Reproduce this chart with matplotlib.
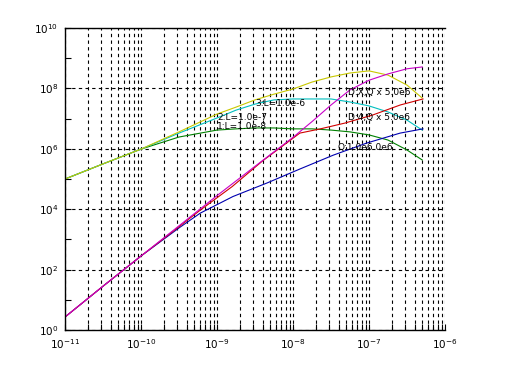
import numpy as np
import matplotlib
matplotlib.use("Agg")
import matplotlib.pyplot as plt
from matplotlib.ticker import FixedLocator, NullFormatter

# log10 values
green_lx  = [-11, -10.5, -10, -9.5, -9, -8.75, -8.5, -8.25, -8, -7.75, -7.5, -7.25, -7, -6.75, -6.5, -6.3]
green_ly  = [5.0, 5.5, 5.99, 6.39, 6.62, 6.66, 6.69, 6.69, 6.66, 6.66, 6.62, 6.56, 6.46, 6.29, 5.96, 5.63]
cyan_lx   = [-11, -10.5, -10, -9.5, -9, -8.75, -8.5, -8.25, -8, -7.75, -7.5, -7.25, -7, -6.75, -6.5, -6.3]
cyan_ly   = [5.0, 5.5, 5.99, 6.52, 7.02, 7.28, 7.48, 7.62, 7.65, 7.65, 7.65, 7.55, 7.42, 7.22, 6.95, 6.62]
yellow_lx = [-11, -10.5, -10, -9.5, -9, -8.75, -8.5, -8.25, -8, -7.75, -7.5, -7.25, -7, -6.75, -6.5, -6.3]
yellow_ly = [5.0, 5.5, 5.99, 6.56, 7.15, 7.38, 7.62, 7.81, 7.98, 8.21, 8.38, 8.51, 8.58, 8.44, 8.11, 7.68]
magenta_lx = [-11, -10.5, -10, -9.5, -9, -8.5, -8, -7.75, -7.5, -7.25, -7, -6.75, -6.5, -6.3]
magenta_ly = [0.43, 1.45, 2.45, 3.45, 4.45, 5.42, 6.38, 6.9, 7.45, 7.95, 8.27, 8.48, 8.65, 8.71]
red_lx    = [-11, -10.5, -10, -9.5, -9.22, -8.8, -8.4, -7.91, -7.64, -7.32, -6.95, -6.59, -6.29]
red_ly    = [0.43, 1.45, 2.45, 3.42, 3.97, 4.75, 5.6, 6.52, 6.66, 6.85, 7.12, 7.45, 7.65]
blue_lx   = [-11, -10.5, -10, -9.5, -9.22, -8.79, -8.34, -7.91, -7.47, -7.03, -6.59, -6.29]
blue_ly   = [0.43, 1.45, 2.45, 3.38, 3.87, 4.42, 4.87, 5.33, 5.79, 6.19, 6.52, 6.66]

x_tick_exp = [-11, -10, -9, -8, -7, -6]
y_tick_exp = [0, 2, 4, 6, 8, 10]

labels = ["3:L=1.0e-6", "2:L=1.0e-7", "1:L=1.0e-8",
          "D:X,Q x 5.0e6", "D:4,Q x 5.0e6", "Q:1.0e6.0e6"]

fig = plt.figure(figsize=(5.08, 3.70), dpi=100)
ax = fig.add_axes([65/508, 1-330/370, (445-65)/508, (330-28)/370])

series = [
    (green_lx, green_ly, "#008000"),
    (cyan_lx, cyan_ly, "#00bfbf"),
    (yellow_lx, yellow_ly, "#c8c800"),
    (blue_lx, blue_ly, "#0000b0"),
    (red_lx, red_ly, "#d00000"),
    (magenta_lx, magenta_ly, "#c800c8"),
]
for lx, ly, c in series:
    ax.plot(10.0**np.array(lx), 10.0**np.array(ly), color=c, lw=0.8)

ax.set_xscale("log")
ax.set_yscale("log")
ax.set_xlim(1e-11, 1e-6)
ax.set_ylim(1e0, 1e10)

xmaj = [10.0**e for e in x_tick_exp]
xmin = [m * 10.0**e for e in x_tick_exp[:-1] for m in range(2, 10)]
ymaj = [10.0**e for e in y_tick_exp]
ymin = [10.0**e for e in range(1, 10, 2)]
ax.xaxis.set_major_locator(FixedLocator(xmaj))
ax.xaxis.set_minor_locator(FixedLocator(xmin))
ax.yaxis.set_major_locator(FixedLocator(ymaj))
ax.yaxis.set_minor_locator(FixedLocator(ymin))
ax.set_xticklabels([f"$10^{{{e}}}$" for e in x_tick_exp])
ax.set_yticklabels([f"$10^{{{e}}}$" for e in y_tick_exp])
ax.xaxis.set_minor_formatter(NullFormatter())
ax.yaxis.set_minor_formatter(NullFormatter())

ax.tick_params(which="both", direction="in", labelsize=7.5, length=4, width=0.8)
ax.tick_params(axis="x", which="both", pad=5)
ax.tick_params(axis="y", which="both", pad=5)

ax.grid(True, which="major", axis="both", color="black", ls=(0, (3, 3)), lw=0.8)
ax.grid(True, which="minor", axis="x", color="black", ls=(0, (3, 3)), lw=0.8)

ax.spines["right"].set_visible(False)
for s in ["left", "bottom", "top"]:
    ax.spines[s].set_linewidth(1.0)

# annotations (pixel positions converted to data coords)
def px2data(px, py):
    lx = -11 + (px - 65) / 76.0
    ly = (330 - py) / 30.2
    return 10**lx, 10**ly

text_pos = [(255, 103), (217, 118), (217, 127), (348, 92), (348, 118), (337, 148)]
for t, (px, py) in zip(labels, text_pos):
    x, y = px2data(px, py)
    ax.text(x, y, t, fontsize=6.5, va="center", ha="left", color="black")

fig.savefig("out.png", dpi=100)
